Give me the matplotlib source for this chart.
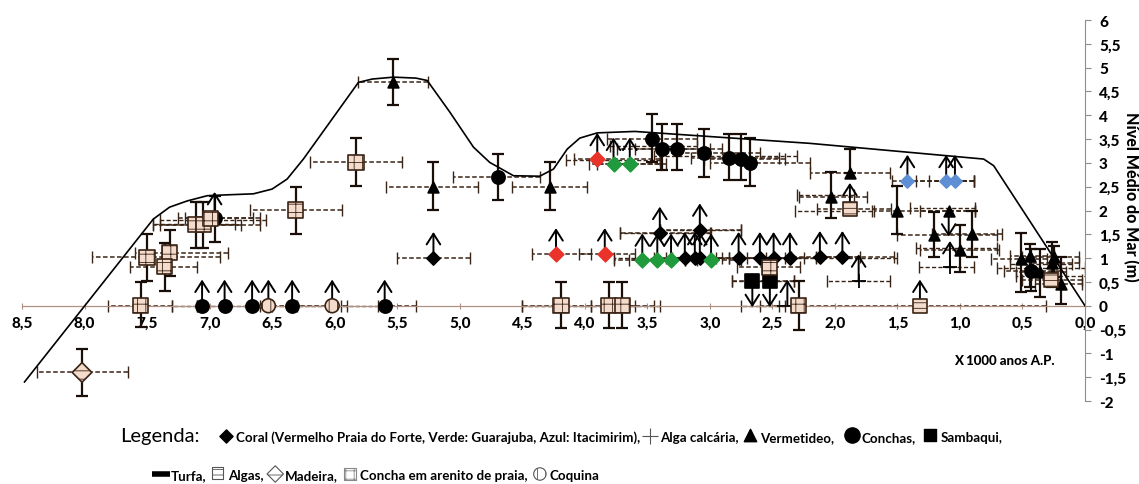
import matplotlib.pyplot as plt

plt.rcParams['font.family'] = ['Lato', 'DejaVu Sans']
plt.rcParams['hatch.linewidth'] = 0.6

# envelope curve of the relative sea level (age in 1000 yr BP, level in m)
curve_age = [8.48, 7.45, 7.32, 7.18, 7.02, 6.85, 6.65, 6.50, 6.38, 6.25, 5.81, 5.70,
             5.53, 5.35, 5.26, 5.08, 4.89, 4.76, 4.57, 4.36, 4.25, 4.14, 4.04, 3.90,
             3.60, 2.20, 0.81, 0.73, 0.00]
curve_lvl = [-1.60, 1.82, 2.07, 2.20, 2.31, 2.33, 2.35, 2.45, 2.66, 3.08, 4.69, 4.76,
             4.80, 4.78, 4.73, 4.07, 3.33, 3.01, 2.73, 2.72, 2.87, 3.29, 3.52, 3.63,
             3.66, 3.41, 3.08, 2.94, 0.00]

# samples: (age, level, age_max, age_min, level_min, level_max, arrow)  arrow: 1 up, -1 down
coral_k = [(5.21, 1.00, 5.50, 4.92, None, None, 1), (3.20, 1.00, 3.45, 2.95, None, None, 1),
           (3.12, 1.00, 3.35, 2.90, None, None, 1), (3.08, 1.00, 3.30, 2.85, None, None, 1),
           (2.77, 1.00, 3.00, 2.55, None, None, 1), (2.60, 1.00, 2.85, 2.40, None, None, 1),
           (2.49, 1.00, 2.70, 2.25, None, None, 1), (2.36, 1.00, 2.60, 2.15, None, None, 1),
           (2.12, 1.02, 2.35, 1.80, None, None, 1), (1.94, 1.02, 2.15, 1.53, None, None, 1),
           (3.40, 1.53, 3.72, 3.00, None, None, 1), (3.08, 1.60, 3.40, 2.75, None, None, 1)]
coral_red = [(4.23, 1.08, 4.42, 3.95, None, None, 1), (3.84, 1.08, 4.05, 3.60, None, None, 1),
             (3.90, 3.08, 4.09, 3.40, None, None, 1)]
coral_green = [(3.77, 2.98, 3.97, 3.40, None, None, 1), (3.64, 2.98, 3.90, 3.35, None, None, 1),
               (3.54, 0.97, 3.77, 3.30, None, None, 1), (3.42, 0.97, 3.65, 3.20, None, None, 1),
               (3.31, 0.97, 3.55, 3.10, None, None, 1), (2.99, 0.97, 3.20, 2.75, None, None, 1)]
coral_blue = [(1.42, 2.62, 1.54, 0.89, None, None, 1), (1.11, 2.62, 1.35, 0.89, None, None, 1),
              (1.04, 2.62, 1.25, 0.89, None, None, 1)]

vermetideo = [(5.53, 4.70, 5.81, 5.25, 4.22, 5.18, 0), (5.21, 2.49, 5.59, 4.85, 2.01, 3.01, 0),
              (4.28, 2.49, 4.58, 3.98, 2.01, 3.01, 0), (1.88, 2.79, 2.20, 1.56, 2.79, 3.29, 0),
              (2.03, 2.28, 2.29, 1.74, 1.84, 2.80, 0), (1.50, 1.98, 1.69, 0.88, 1.51, 2.52, 0),
              (1.21, 1.49, 1.50, 0.70, 1.02, 1.96, 0), (1.09, 2.00, 1.32, 0.88, None, None, -1),
              (1.00, 1.18, 1.32, 0.69, 0.70, 1.70, 0), (0.90, 1.51, 1.22, 0.66, 1.02, 2.00, 0),
              (0.51, 0.98, 0.75, 0.30, 0.29, 1.52, 0), (0.36, 0.70, 0.55, 0.15, 0.18, 1.19, 0),
              (0.26, 0.90, 0.45, 0.05, 0.40, 1.33, 0), (0.25, 1.02, 0.50, 0.05, 0.60, 1.25, 0),
              (0.19, 0.46, 0.40, 0.02, 0.04, 1.02, 0), (0.44, 1.05, 0.60, 0.25, 0.40, 1.30, 0)]

conchas = [(7.06, 0.0, None, None, None, None, 1), (6.88, 0.0, None, None, None, None, 1),
           (6.66, 0.0, None, None, None, None, 1), (6.34, 0.0, None, None, None, None, 1),
           (5.60, 0.0, 5.65, 5.35, None, None, 1), (6.96, 1.84, 7.25, 6.60, 1.33, 2.31, 1),
           (4.69, 2.71, 5.05, 4.36, 2.21, 3.19, 0), (3.46, 3.50, 3.82, 3.10, 3.01, 4.03, 0),
           (3.38, 3.29, 3.74, 3.00, 2.84, 3.82, 0), (3.26, 3.29, 3.60, 2.90, 2.84, 3.82, 0),
           (3.05, 3.21, 3.40, 2.60, 2.71, 3.71, 0), (2.85, 3.10, 3.15, 2.45, 2.63, 3.61, 0),
           (2.75, 3.08, 3.05, 2.40, 2.63, 3.61, 0), (2.68, 3.00, 3.00, 2.20, 2.52, 3.52, 0),
           (0.43, 0.74, 0.65, 0.20, 0.30, 1.20, 0)]

sambaqui = [(2.66, 0.52, 2.82, 2.50, None, None, -1), (2.52, 0.52, 2.70, 2.33, None, None, -1)]
turfa = [(2.38, 0.0, 2.45, 2.29, None, None, 1)]
algas = [(1.88, 2.03, 2.14, 1.55, None, None, 1), (1.32, 0.0, 2.29, 0.31, None, None, 1),
         (0.27, 0.54, 0.50, 0.02, None, None, 0)]
arenito = [(7.55, 0.00, 7.81, 7.30, -0.45, 0.50, 0), (7.50, 1.02, 7.94, 6.92, 0.53, 1.51, 0),
           (7.32, 1.11, 7.60, 6.85, 0.62, 1.60, 0), (7.36, 0.82, 7.64, 7.10, 0.32, 1.31, 0),
           (7.11, 1.70, 7.45, 6.75, 1.21, 2.18, 0), (7.05, 1.70, 7.40, 6.60, 1.21, 2.18, 0),
           (6.99, 1.84, 7.20, 6.65, None, None, 0), (6.31, 2.01, 6.68, 5.94, 1.51, 2.49, 0),
           (5.83, 3.01, 6.20, 5.46, 2.52, 3.52, 0), (4.19, 0.00, 4.50, 3.95, -0.47, 0.50, 0),
           (3.81, 0.00, 3.95, 3.60, -0.47, 0.50, 0), (3.70, 0.00, 3.85, 3.45, -0.47, 0.50, 0),
           (2.52, 0.81, 2.78, 2.28, 0.81, 1.00, 0), (2.29, 0.00, 2.60, 2.29, -0.50, 0.52, 0)]
coquina = [(6.53, 0.0, 6.60, 6.35, None, None, 1), (6.02, 0.0, 6.30, 5.90, None, None, 1)]
madeira = [(8.02, -1.40, 8.38, 7.65, -1.89, -0.90, 0)]

# alga calcaria ranges without a symbol of their own: (level, age_max, age_min, arrow_age)
alga = [(0.53, 2.06, 1.56, 1.81), (0.81, 1.33, 0.89, 1.08), (1.22, 1.35, 0.70, None),
        (0.80, 0.70, 0.00, None), (0.62, 0.55, -0.02, None), (0.88, 0.60, 0.10, None),
        (2.33, 2.30, 1.85, None), (1.80, 7.40, 6.55, None), (1.72, 7.45, 6.80, None),
        (0.00, 7.30, 7.10, None), (0.00, 7.10, 6.55, None), (0.00, 6.50, 6.05, None),
        (0.00, 5.95, 5.60, None), (0.00, 4.50, 3.40, None), (0.00, 2.75, 2.40, None),
        (1.52, 3.72, 2.99, None), (1.60, 3.40, 2.75, None), (1.00, 3.77, 1.50, None),
        (3.05, 4.15, 3.40, None), (3.15, 3.45, 2.30, None), (2.00, 2.32, 1.70, None),
        (0.52, 2.82, 2.33, None), (3.35, 3.80, 3.10, None), (2.05, 1.40, 0.88, None)]

legend_row1 = ['Coral (Vermelho Praia do Forte, Verde: Guarajuba, Azul: Itacimirim),',
               'Alga calcária,', 'Vermetideo,', 'Conchas,', 'Sambaqui,']
legend_row2 = ['Turfa,', 'Algas,', 'Madeira,', 'Concha em arenito de praia,', 'Coquina']

BAR = '#3a2416'
HATCH_FACE = '#f4dccc'

fig = plt.figure(figsize=(11.39, 4.85), dpi=100)
ax = fig.add_axes([22 / 1139, 1 - 402 / 485, (1085 - 22) / 1139, (402 - 21) / 485])


def draw_rows(rows, marker, face, edge='k', size=60, hatch=None):
    for age, lvl, a0, a1, l0, l1, arrow in rows:
        if a0 is not None:
            lo, hi = min(a0, a1), max(a0, a1)
            eb = ax.errorbar(age, lvl, xerr=[[age - lo], [hi - age]], fmt='none',
                             ecolor=BAR, elinewidth=1.1, capsize=4, capthick=1.0, zorder=2)
            eb[2][0].set_linestyle((0, (3, 1.6)))
        if l0 is not None:
            ax.errorbar(age, lvl, yerr=[[lvl - l0], [l1 - lvl]], fmt='none',
                        ecolor='#1a0f08', elinewidth=1.6, capsize=4, capthick=1.6, zorder=3)
        if arrow:
            ax.annotate('', xy=(age, lvl + 0.55 * arrow), xytext=(age, lvl),
                        arrowprops=dict(arrowstyle='->,head_length=0.55,head_width=0.35',
                                        lw=1.4, color='k', shrinkA=0, shrinkB=0,
                                        mutation_scale=14), zorder=3)
    ax.scatter([r[0] for r in rows], [r[1] for r in rows], s=size, marker=marker,
               facecolor=face, edgecolor=edge, hatch=hatch, linewidth=1.2, zorder=5)


# baseline level 0
ax.axhline(0, color='#b09080', lw=0.8, zorder=1)

# alga calcaria crosses
for lvl, a0, a1, arr in alga:
    lo, hi = min(a0, a1), max(a0, a1)
    mid = (lo + hi) / 2
    eb = ax.errorbar(mid, lvl, xerr=[[mid - lo], [hi - mid]], fmt='none', ecolor=BAR,
                     elinewidth=1.0, capsize=4, capthick=1.0, zorder=2)
    eb[2][0].set_linestyle((0, (3, 1.6)))
    if arr is not None:
        ax.plot(arr, lvl, marker='+', ms=10, mew=1.3, color='k', zorder=4)
        ax.annotate('', xy=(arr, lvl + 0.55), xytext=(arr, lvl),
                    arrowprops=dict(arrowstyle='->,head_length=0.55,head_width=0.35',
                                    lw=1.4, color='k', shrinkA=0, shrinkB=0,
                                    mutation_scale=14), zorder=3)

ax.plot(curve_age, curve_lvl, color='k', lw=1.2, zorder=6)

draw_rows(coral_k, 'D', 'k', size=45)
draw_rows(coral_red, 'D', '#e8322a', edge='#e8322a', size=55)
draw_rows(coral_green, 'D', '#1f9a3c', edge='#1f9a3c', size=55)
draw_rows(coral_blue, 'D', '#5e8fd4', edge='#5e8fd4', size=45)
draw_rows(vermetideo, '^', 'k', size=60)
draw_rows(conchas, 'o', 'k', size=90)
draw_rows(sambaqui, 's', 'k', size=100)
draw_rows(turfa, '_', 'k', size=200)
draw_rows(algas, 's', HATCH_FACE, edge='#3a2416', size=100, hatch='---')
draw_rows(arenito, 's', HATCH_FACE, edge='#3a2416', size=120, hatch='++')
draw_rows(coquina, 'o', HATCH_FACE, edge='#3a2416', size=100, hatch='||')
draw_rows(madeira, 'D', HATCH_FACE, edge='#3a2416', size=100, hatch='--')

# axes styling
ax.set_xlim(8.5, 0)
ax.set_ylim(-2, 6)
for s in ('left', 'top'):
    ax.spines[s].set_visible(False)
ax.spines['bottom'].set_position(('data', 0))
ax.spines['bottom'].set_color('#b09080')
ax.spines['bottom'].set_linewidth(0.8)
ax.spines['right'].set_color('#9a8a80')
ax.spines['right'].set_linewidth(0.8)
ax.yaxis.tick_right()

xt = [8.5 - 0.5 * i for i in range(18)]
ax.set_xticks(xt)
ax.set_xticklabels([f'{v:.1f}'.replace('.', ',') for v in xt], fontweight='black', fontsize=11)
yt = [6 - 0.5 * i for i in range(17)]
ax.set_yticks(yt)
ax.set_yticklabels([f'{v:g}'.replace('.', ',') for v in yt], fontweight='black', fontsize=11)
ax.tick_params(axis='x', direction='inout', length=5, color='#b09080', pad=5)
ax.tick_params(axis='y', direction='out', length=4, color='#9a8a80', pad=6)

fig.text(1004 / 1139, 1 - 361 / 485, 'X 1000 anos A.P.', ha='center', va='center',
         fontweight='black', fontsize=9.5)
fig.text(1131 / 1139, 1 - 197 / 485, 'Nível Médio do Mar (m)', rotation=270, ha='center',
         va='center', fontweight='black', fontsize=11.5)

# legend drawn below the chart in pixel coordinates, laid out left to right
lax = fig.add_axes([0, 0, 1, 1])
lax.set_xlim(0, 1139)
lax.set_ylim(485, 0)
lax.axis('off')
lax.patch.set_alpha(0)
renderer = fig.canvas.get_renderer()
fs = 9.6


def sym_diamond(x, y):
    lax.scatter([x], [y], marker='D', s=45, color='k')


def sym_plus(x, y):
    lax.plot([x], [y], marker='+', ms=12, mew=0.8, color='#555555')


def sym_tri(x, y):
    lax.scatter([x], [y - 1], marker='^', s=80, color='k')


def sym_circle(x, y):
    lax.scatter([x], [y - 1], marker='o', s=120, color='k')


def sym_square(x, y):
    lax.scatter([x], [y - 1], marker='s', s=80, color='k')


def sym_bar(x, y):
    lax.plot([x], [y], marker='_', ms=13, mew=4, color='k')


def sym_algas(x, y):
    lax.scatter([x], [y - 1], marker='s', s=70, facecolor='w', edgecolor='#555555', hatch='---', lw=0.8)


def sym_madeira(x, y):
    lax.scatter([x], [y], marker='D', s=70, facecolor='w', edgecolor='#555555', hatch='-', lw=0.8)


def sym_grid(x, y):
    lax.scatter([x], [y], marker='s', s=70, facecolor='w', edgecolor='#888888', hatch='++', lw=0.8)


def sym_coquina(x, y):
    lax.scatter([x], [y], marker='o', s=80, facecolor='w', edgecolor='#555555', hatch='||', lw=0.8)


def legend_row(x, y, syms, labels, gaps):
    for sym, label, gap in zip(syms, labels, gaps):
        sym(x + 6, y)
        t = lax.text(x + 16, y + 1, label, fontsize=fs, fontweight='bold', va='center')
        x = x + 16 + t.get_window_extent(renderer).width + gap


lax.text(120, 437, 'Legenda:', va='center', fontsize=14.5)
legend_row(220, 437, [sym_diamond, sym_plus, sym_tri, sym_circle, sym_square],
           legend_row1, [4, 5, 12, 8, 0])
legend_row(155, 475, [sym_bar, sym_algas, sym_madeira, sym_grid, sym_coquina],
           legend_row2, [5, 6, 6, 6, 0])

fig.savefig('out.png', dpi=100)
